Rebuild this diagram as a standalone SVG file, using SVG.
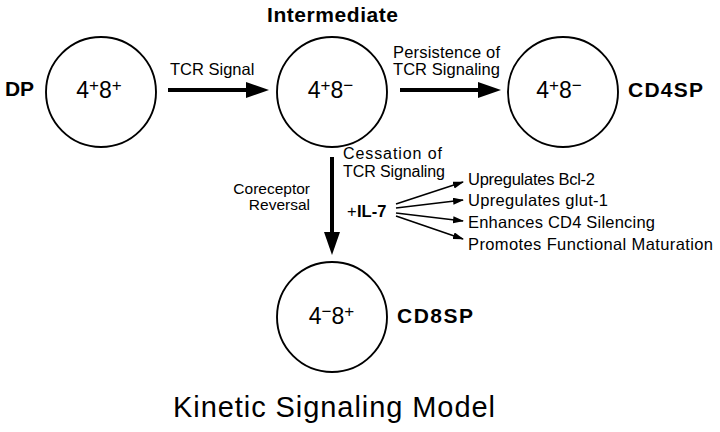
<svg xmlns="http://www.w3.org/2000/svg" width="720" height="432" viewBox="0 0 720 432">
<style>
text{font-family:"Liberation Sans",Arial,sans-serif;fill:#000}
.lbl{font-size:16.5px}
.ces{font-size:16px}
.rev{font-size:15.5px}
.bold{font-weight:bold;font-size:21px}
.pheno{font-size:23px;text-anchor:middle}
.sup{font-size:17px}
.title{font-size:29px}
.cell{fill:#fff;stroke:#000;stroke-width:1.9}
.big{stroke:#000;stroke-width:4;fill:none}
.thin{stroke:#000;stroke-width:1.6;fill:none}
</style>
<defs>
<marker id="bigHead" markerUnits="userSpaceOnUse" markerWidth="24" markerHeight="18" refX="0" refY="8" orient="auto">
<path d="M0,0 L23,8 L0,16 Z" fill="#000"/>
</marker>
<marker id="smallHead" markerUnits="userSpaceOnUse" markerWidth="12" markerHeight="8" refX="10" refY="3.5" orient="auto">
<path d="M0,0 L11,3.5 L0,7 Z" fill="#000"/>
</marker>
</defs>
<rect width="720" height="432" fill="#fff"/>

<g id="connectors">
<line class="big" x1="168" y1="90" x2="246" y2="90" marker-end="url(#bigHead)"/>
<line class="big" x1="400" y1="90" x2="478" y2="90" marker-end="url(#bigHead)"/>
<line class="big" x1="332" y1="157" x2="332" y2="232" marker-end="url(#bigHead)"/>
<line class="thin" x1="396" y1="204" x2="463" y2="182" marker-end="url(#smallHead)"/>
<line class="thin" x1="396" y1="208" x2="463" y2="200" marker-end="url(#smallHead)"/>
<line class="thin" x1="396" y1="213" x2="463" y2="221" marker-end="url(#smallHead)"/>
<line class="thin" x1="396" y1="216" x2="463" y2="239" marker-end="url(#smallHead)"/>
<text class="lbl" x="170" y="75">TCR Signal</text>
<text class="lbl" x="393" y="58" textLength="107">Persistence of</text>
<text class="lbl" x="393" y="75" textLength="107">TCR Signaling</text>
<text class="ces" x="343" y="159" textLength="99">Cessation of</text>
<text class="ces" x="343" y="177" textLength="102">TCR Signaling</text>
<text class="rev" x="310" y="194" text-anchor="end">Coreceptor</text>
<text class="rev" x="310" y="210" text-anchor="end">Reversal</text>
<text class="lbl" x="347" y="217">+<tspan font-weight="bold" x="357">IL-7</tspan></text>
<text class="lbl" x="468" y="185" textLength="127">Upregulates Bcl-2</text>
<text class="lbl" x="468" y="206" textLength="140">Upregulates glut-1</text>
<text class="lbl" x="468" y="228" textLength="187">Enhances CD4 Silencing</text>
<text class="lbl" x="468" y="250" textLength="245">Promotes Functional Maturation</text>
</g>

<g id="node-dp">
<circle class="cell" cx="101" cy="92" r="55"/>
<text class="pheno" x="99" y="98">4<tspan class="sup" dy="-7">+</tspan><tspan dy="7">8</tspan><tspan class="sup" dy="-7">+</tspan></text>
<text class="bold" x="5" y="96" textLength="29">DP</text>
</g>

<g id="node-intermediate">
<circle class="cell" cx="332" cy="92" r="55"/>
<text class="pheno" x="330.5" y="98">4<tspan class="sup" dy="-7">+</tspan><tspan dy="7">8</tspan><tspan class="sup" dy="-7">−</tspan></text>
<text class="bold" x="267" y="22" textLength="131">Intermediate</text>
</g>

<g id="node-cd4sp">
<circle class="cell" cx="563" cy="92" r="55"/>
<text class="pheno" x="559" y="98">4<tspan class="sup" dy="-7">+</tspan><tspan dy="7">8</tspan><tspan class="sup" dy="-7">−</tspan></text>
<text class="bold" x="628" y="97" textLength="75">CD4SP</text>
</g>

<g id="node-cd8sp">
<circle class="cell" cx="332" cy="317" r="55"/>
<text class="pheno" x="331.5" y="324">4<tspan class="sup" dy="-7">−</tspan><tspan dy="7">8</tspan><tspan class="sup" dy="-7">+</tspan></text>
<text class="bold" x="397" y="323" textLength="76">CD8SP</text>
</g>

<text class="title" x="173" y="417" textLength="322">Kinetic Signaling Model</text>
</svg>
